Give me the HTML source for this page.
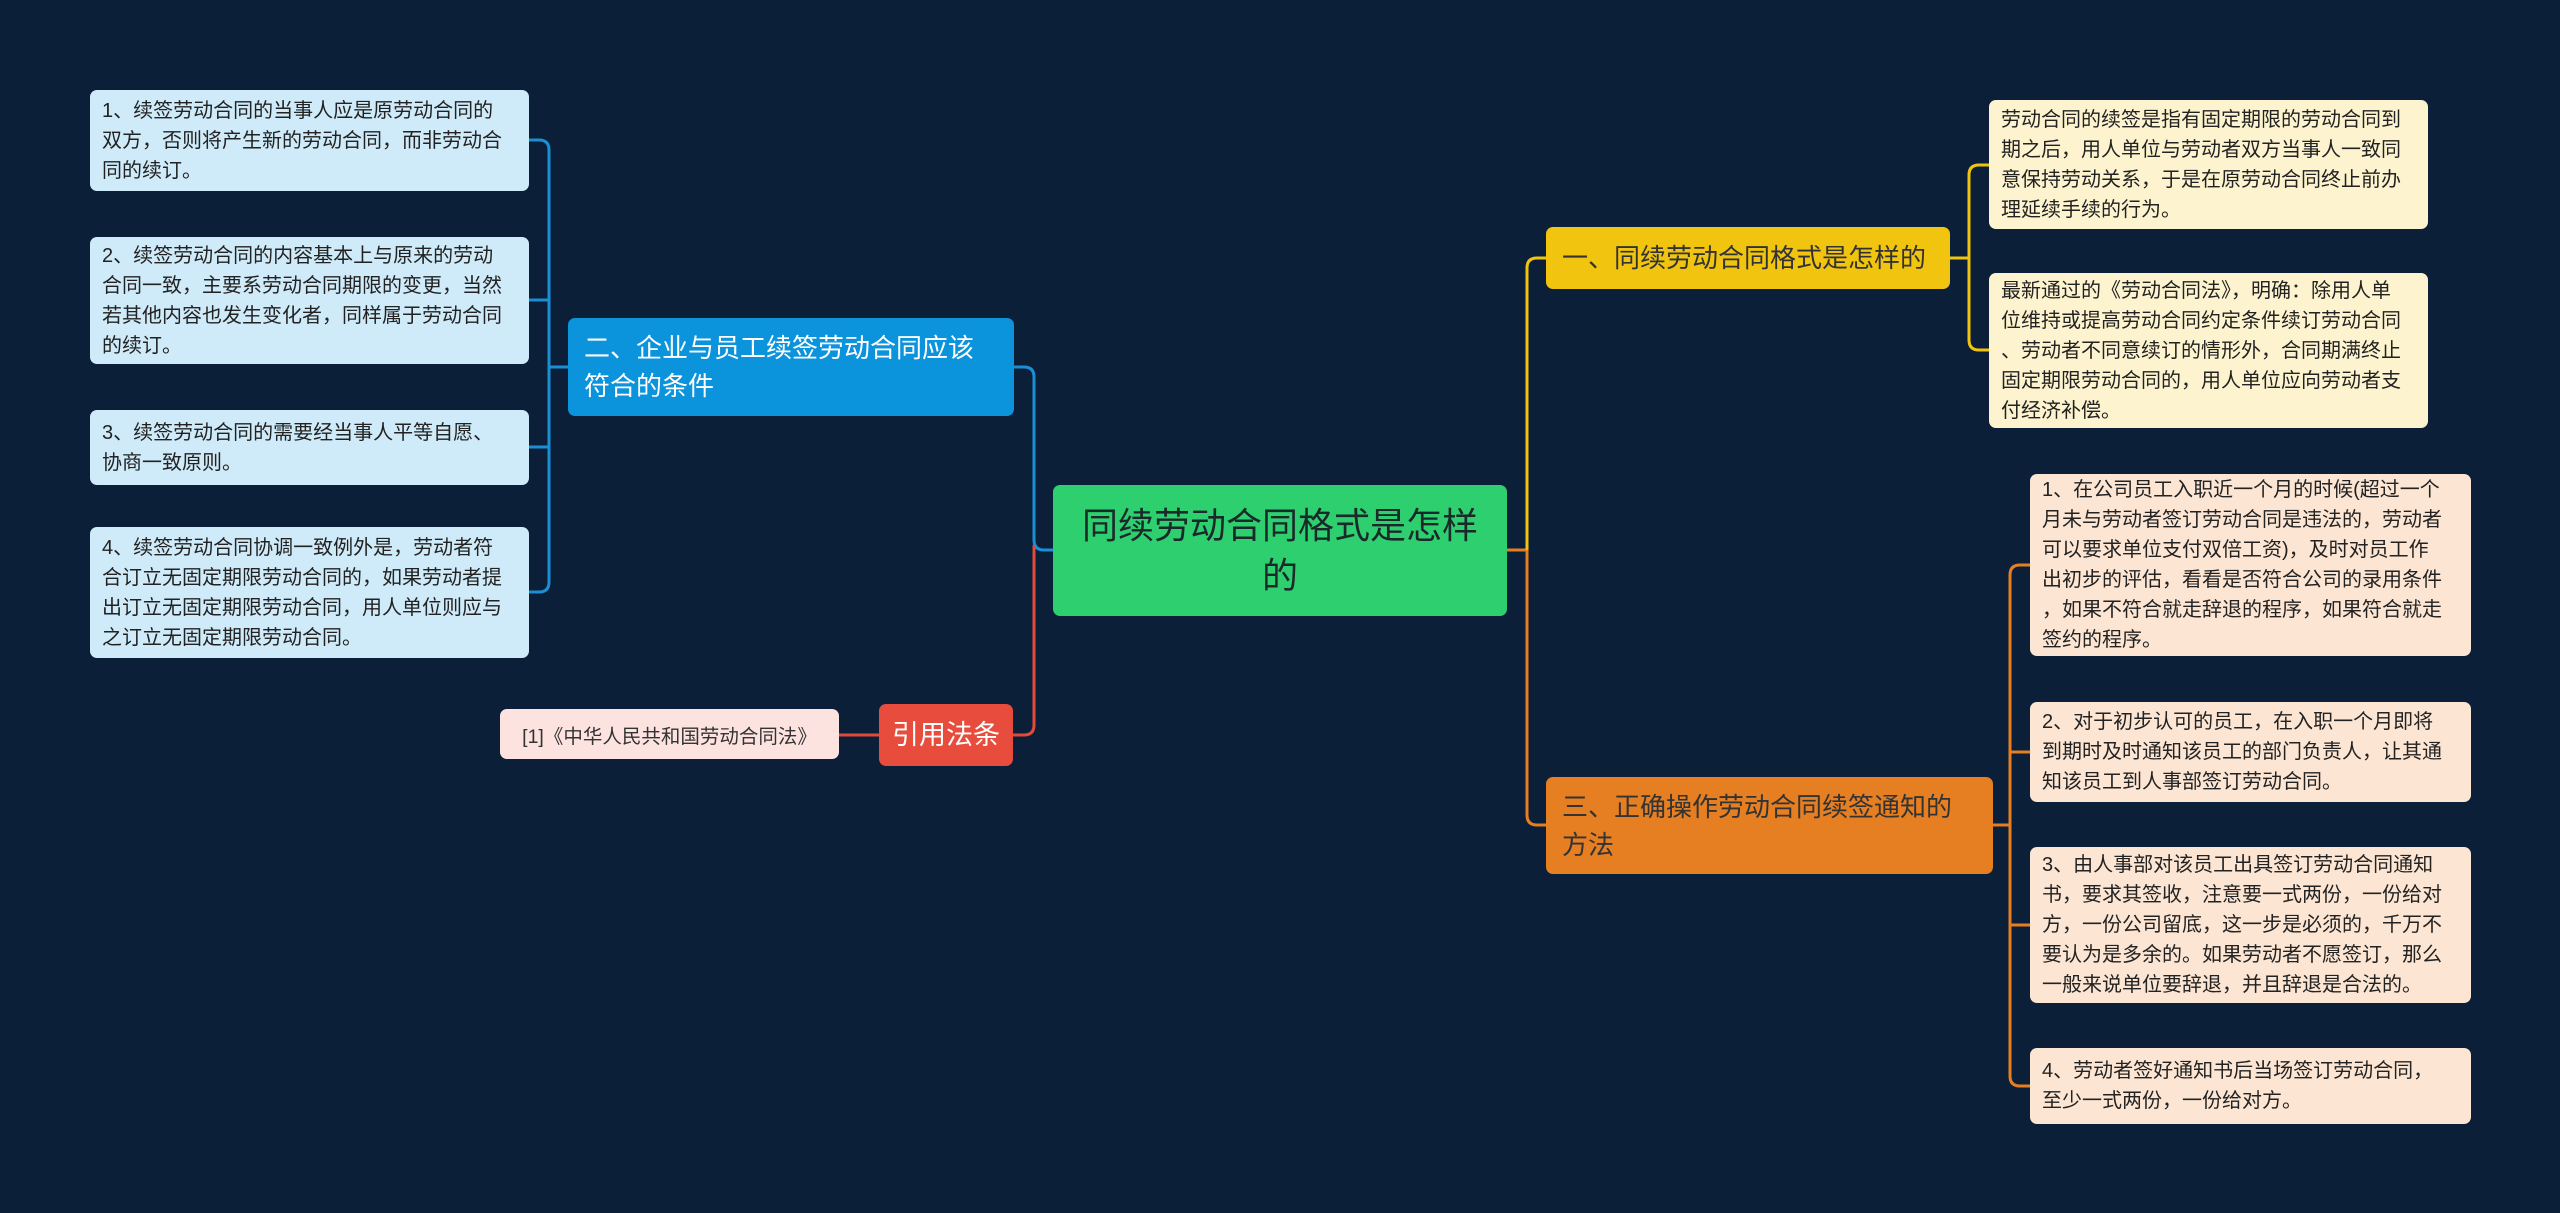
<!DOCTYPE html>
<html><head><meta charset="utf-8"><style>
body{margin:0;width:2560px;height:1213px;background:#0c1f38;position:relative;overflow:hidden;font-family:"Liberation Sans","Noto Sans CJK SC",sans-serif}
.n{position:absolute;box-sizing:border-box;border-radius:7px}
.leaf{font-size:20px;line-height:30px;color:#222;padding:5px 12px;display:flex;align-items:center;line-break:anywhere}
.leaf span{width:402px;display:block}
.lb{background:#cfeaf8}.ly{background:#fdf4cf}.lo{background:#fce5d3}
.br{font-size:26px;line-height:38px;color:#fff;padding:0 16px;display:flex;align-items:center}
</style></head><body>
<svg width="2560" height="1213" style="position:absolute;left:0;top:0" fill="none" stroke-width="3">
<g stroke="#1a8fd6">
<path d="M529,140 H539 Q549,140 549,150 V582 Q549,592 539,592 H529"/>
<path d="M529,300 H549 M529,447 H549 M568,367 H549"/>
<path d="M1053,550 H1044 Q1034,550 1034,540 V377 Q1034,367 1024,367 H1014"/>
</g>
<g stroke="#e04a3a">
<path d="M1034,545 V725 Q1034,735 1024,735 H1013"/>
<path d="M879,735 H839"/>
</g>
<g stroke="#e67e22">
<path d="M1507,550 H1527 M1527,550 V815 Q1527,825 1537,825 H1546"/>
<path d="M1993,825 H2010 M2030,565 H2020 Q2010,565 2010,575 V1076 Q2010,1086 2020,1086 H2030 M2010,752 H2030 M2010,925 H2030"/>
</g>
<g stroke="#f1c40f">
<path d="M1527,550 V268 Q1527,258 1537,258 H1546"/>
<path d="M1950,258 H1969 M1989,165 H1979 Q1969,165 1969,175 V340 Q1969,350 1979,350 H1989"/>
</g>
</svg>

<div class="n leaf lb" style="left:90px;top:90px;width:439px;height:101px"><span>1、续签劳动合同的当事人应是原劳动合同的双方，否则将产生新的劳动合同，而非劳动合同的续订。</span></div>
<div class="n leaf lb" style="left:90px;top:237px;width:439px;height:127px"><span>2、续签劳动合同的内容基本上与原来的劳动合同一致，主要系劳动合同期限的变更，当然若其他内容也发生变化者，同样属于劳动合同的续订。</span></div>
<div class="n leaf lb" style="left:90px;top:410px;width:439px;height:75px"><span>3、续签劳动合同的需要经当事人平等自愿、协商一致原则。</span></div>
<div class="n leaf lb" style="left:90px;top:527px;width:439px;height:131px"><span>4、续签劳动合同协调一致例外是，劳动者符合订立无固定期限劳动合同的，如果劳动者提出订立无固定期限劳动合同，用人单位则应与之订立无固定期限劳动合同。</span></div>

<div class="n br" style="left:568px;top:318px;width:446px;height:98px;background:#0b93db">二、企业与员工续签劳动合同应该符合的条件</div>
<div class="n br" style="left:879px;top:704px;width:134px;height:62px;background:#e74c3c;justify-content:center;font-size:27px;padding:0;white-space:nowrap">引用法条</div>
<div class="n" style="left:500px;top:709px;width:339px;height:50px;background:#fde3e0;color:#333;font-size:19.5px;display:flex;align-items:center;justify-content:center">[1]《中华人民共和国劳动合同法》</div>

<div class="n" style="left:1053px;top:485px;width:454px;height:131px;background:#2ecf6e;color:#1a2a2a;font-size:36px;line-height:50px;display:flex;align-items:center;justify-content:center;text-align:center;padding:0 22px">同续劳动合同格式是怎样的</div>

<div class="n br" style="left:1546px;top:227px;width:404px;height:62px;background:#f1c40f;color:#333">一、同续劳动合同格式是怎样的</div>
<div class="n br" style="left:1546px;top:777px;width:447px;height:97px;background:#e67e22;color:#333">三、正确操作劳动合同续签通知的方法</div>

<div class="n leaf ly" style="left:1989px;top:100px;width:439px;height:129px"><span>劳动合同的续签是指有固定期限的劳动合同到期之后，用人单位与劳动者双方当事人一致同意保持劳动关系，于是在原劳动合同终止前办理延续手续的行为。</span></div>
<div class="n leaf ly" style="left:1989px;top:273px;width:439px;height:155px"><span>最新通过的《劳动合同法》，明确：除用人单位维持或提高劳动合同约定条件续订劳动合同、劳动者不同意续订的情形外，合同期满终止固定期限劳动合同的，用人单位应向劳动者支付经济补偿。</span></div>

<div class="n leaf lo" style="left:2030px;top:474px;width:441px;height:182px"><span>1、在公司员工入职近一个月的时候(超过一个月未与劳动者签订劳动合同是违法的，劳动者可以要求单位支付双倍工资)，及时对员工作出初步的评估，看看是否符合公司的录用条件，如果不符合就走辞退的程序，如果符合就走签约的程序。</span></div>
<div class="n leaf lo" style="left:2030px;top:702px;width:441px;height:100px"><span>2、对于初步认可的员工，在入职一个月即将到期时及时通知该员工的部门负责人，让其通知该员工到人事部签订劳动合同。</span></div>
<div class="n leaf lo" style="left:2030px;top:847px;width:441px;height:156px"><span>3、由人事部对该员工出具签订劳动合同通知书，要求其签收，注意要一式两份，一份给对方，一份公司留底，这一步是必须的，千万不要认为是多余的。如果劳动者不愿签订，那么一般来说单位要辞退，并且辞退是合法的。</span></div>
<div class="n leaf lo" style="left:2030px;top:1048px;width:441px;height:76px"><span>4、劳动者签好通知书后当场签订劳动合同，至少一式两份，一份给对方。</span></div>
</body></html>
